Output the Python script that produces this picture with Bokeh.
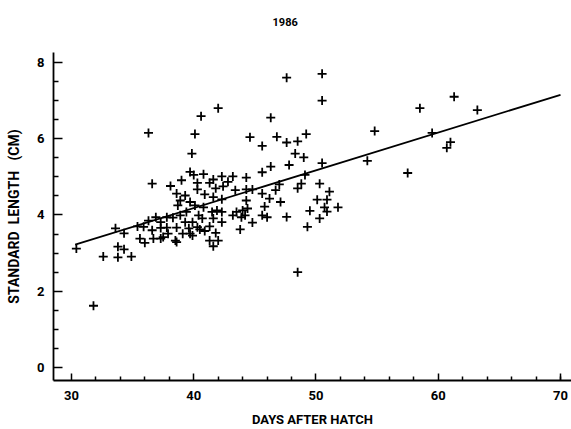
from bokeh.plotting import figure
from bokeh.models import Range1d, FixedTicker, LinearAxis
from bokeh.embed import file_html
from bokeh.resources import INLINE

# Observations: days after hatch, standard length (cm)
days = [30.4, 31.8, 32.6, 33.6, 33.8, 33.8, 34.3, 34.3, 34.9, 35.4, 35.6, 35.9, 36.0,
        36.3, 36.3, 36.6, 36.6, 36.7, 36.9, 37.3, 37.3, 37.3, 37.5, 37.8, 37.8, 37.9,
        38.1, 38.3, 38.5, 38.6, 38.6, 38.6, 38.7, 38.9, 38.9,
        39.0, 39.1, 39.3, 39.3, 39.4, 39.6, 39.7, 39.7, 39.7, 39.85, 40.0, 40.1, 40.1,
        40.3, 40.3, 40.3, 39.9, 40.4, 40.7, 40.5, 39.9, 40.6, 40.8, 40.9, 40.8, 40.9,
        41.3, 41.3, 41.3, 41.5, 41.6, 41.6, 41.6, 41.6, 41.8, 41.8, 41.9, 42.0, 42.0,
        42.3, 42.3, 42.3, 42.3, 42.4, 42.8, 43.2, 43.2, 43.4, 43.5, 43.8, 43.9, 44.0,
        44.2, 44.3, 44.3, 44.3, 44.4, 44.6, 44.8, 44.8,
        45.6, 45.6, 45.6, 45.6, 45.8, 46.0, 46.2, 46.3, 46.3, 46.7, 46.8, 47.0, 47.1,
        47.6, 47.6, 47.6, 47.8,
        48.3, 48.5, 48.5, 48.5, 48.8, 49.0, 49.1, 49.2, 49.3, 49.5, 50.1, 50.3, 50.3,
        50.5, 50.5, 50.5, 50.7, 50.9, 50.9, 51.1, 51.8,
        54.2, 54.8, 57.5, 58.5, 59.5, 60.7, 61.0, 61.3, 63.2]
length = [3.12, 1.62, 2.91, 3.65, 3.17, 2.89, 3.10, 3.52, 2.91, 3.70, 3.38, 3.69, 3.27,
          6.15, 3.85, 4.82, 3.60, 3.38, 3.94, 3.81, 3.66, 3.38, 3.42, 3.94, 3.67, 3.51,
          4.76, 3.93, 3.33, 3.29, 3.67, 4.56, 4.25, 4.38, 3.99,
          4.91, 3.51, 4.51, 3.81, 4.08, 3.65, 5.13, 4.34, 3.51, 5.61, 5.05, 6.12, 4.25,
          4.84, 4.67, 3.68, 3.81, 3.99, 3.91, 3.62, 3.46, 6.59, 5.07, 4.54, 4.20, 3.58,
          4.84, 3.70, 3.33, 4.08, 4.93, 4.47, 3.91, 3.18, 4.70, 3.53, 4.12, 6.80, 3.33,
          5.01, 4.41, 4.08, 3.81, 4.75, 4.87, 5.01, 3.99, 4.65, 4.08, 3.62, 3.94, 4.12,
          3.99, 4.98, 4.67, 4.38, 4.17, 6.04, 3.80, 4.67,
          5.81, 5.12, 4.56, 3.99, 4.22, 3.94, 4.43, 5.27, 6.55, 4.65, 6.05, 4.80, 4.34,
          7.60, 5.90, 3.95, 5.31,
          5.61, 5.93, 4.70, 2.50, 4.82, 5.51, 5.05, 6.12, 3.69, 4.11, 4.40, 4.82, 3.91,
          7.70, 7.00, 5.36, 4.20, 4.40, 4.09, 4.61, 4.20,
          5.42, 6.20, 5.10, 6.80, 6.15, 5.76, 5.91, 7.10, 6.75]

# Fitted regression line end points
fit_days = [30.3, 70.0]
fit_length = [3.22, 7.15]

x_major = [30, 40, 50, 60, 70]
x_minor = [32, 34, 36, 38, 42, 44, 46, 48, 52, 54, 56, 58, 62, 64, 66, 68, 70]
y_major = [0, 2, 4, 6, 8]
y_minor = [0.5, 1, 1.5, 2.5, 3, 3.5, 4.5, 5, 5.5, 6.5, 7, 7.5]

title_text = "1986"

FONT = "Roboto"
NB = "\u00a0"

p = figure(width=571, height=429, output_backend="svg", toolbar_location=None,
           x_range=Range1d(28.53, 70.9), y_range=Range1d(-0.34, 8.26),
           min_border_left=53, min_border_right=0, min_border_top=52, min_border_bottom=49)
p.outline_line_color = None
p.xgrid.visible = False
p.ygrid.visible = False
p.background_fill_color = "white"
p.border_fill_color = "white"

xb = p.below[0]
yl = p.left[0]

p.line(fit_days, fit_length, line_color="black", line_width=1.8)
p.scatter(days, length, marker="cross", size=9, line_width=1.8, line_color="black")

for ax, major, minor in ((xb, x_major, x_minor), (yl, y_major, y_minor)):
    ax.ticker = FixedTicker(ticks=major, minor_ticks=minor)
    ax.axis_line_color = "black"
    ax.axis_line_width = 1.8
    ax.major_tick_line_width = 1.5
    ax.minor_tick_line_width = 1.5
    ax.major_tick_out = 0
    ax.minor_tick_out = 0
    ax.major_label_text_font = FONT
    ax.major_label_text_font_size = "13px"
    ax.major_label_text_font_style = "bold"
    ax.major_label_text_color = "black"
    ax.axis_label_text_font = FONT
    ax.axis_label_text_font_style = "bold"
    ax.axis_label_text_color = "black"

xb.axis_label = "DAYS" + NB + "AFTER" + NB + "HATCH"
xb.axis_label_text_font_size = "13px"
xb.major_tick_in = 7
xb.minor_tick_in = 4
xb.major_label_standoff = 10
xb.axis_label_standoff = 9

yl.axis_label = "STANDARD" + NB + NB + "LENGTH" + NB + NB + NB + "(CM)"
yl.axis_label_text_font_size = "14px"
yl.major_tick_in = 9
yl.minor_tick_in = 5
yl.major_label_standoff = 9
yl.axis_label_standoff = 12

# Title drawn as the label of a bare axis above the frame
top = LinearAxis(ticker=FixedTicker(ticks=[]), axis_label=title_text + NB * 20,
                 axis_line_color=None, major_tick_in=0, major_tick_out=0,
                 minor_tick_in=0, minor_tick_out=0, major_label_text_font_size="0px",
                 axis_label_text_font=FONT, axis_label_text_font_size="11px",
                 axis_label_text_font_style="bold", axis_label_text_color="black",
                 axis_label_standoff=24)
p.add_layout(top, "above")

open("out.html", "w").write(file_html(p, INLINE))
